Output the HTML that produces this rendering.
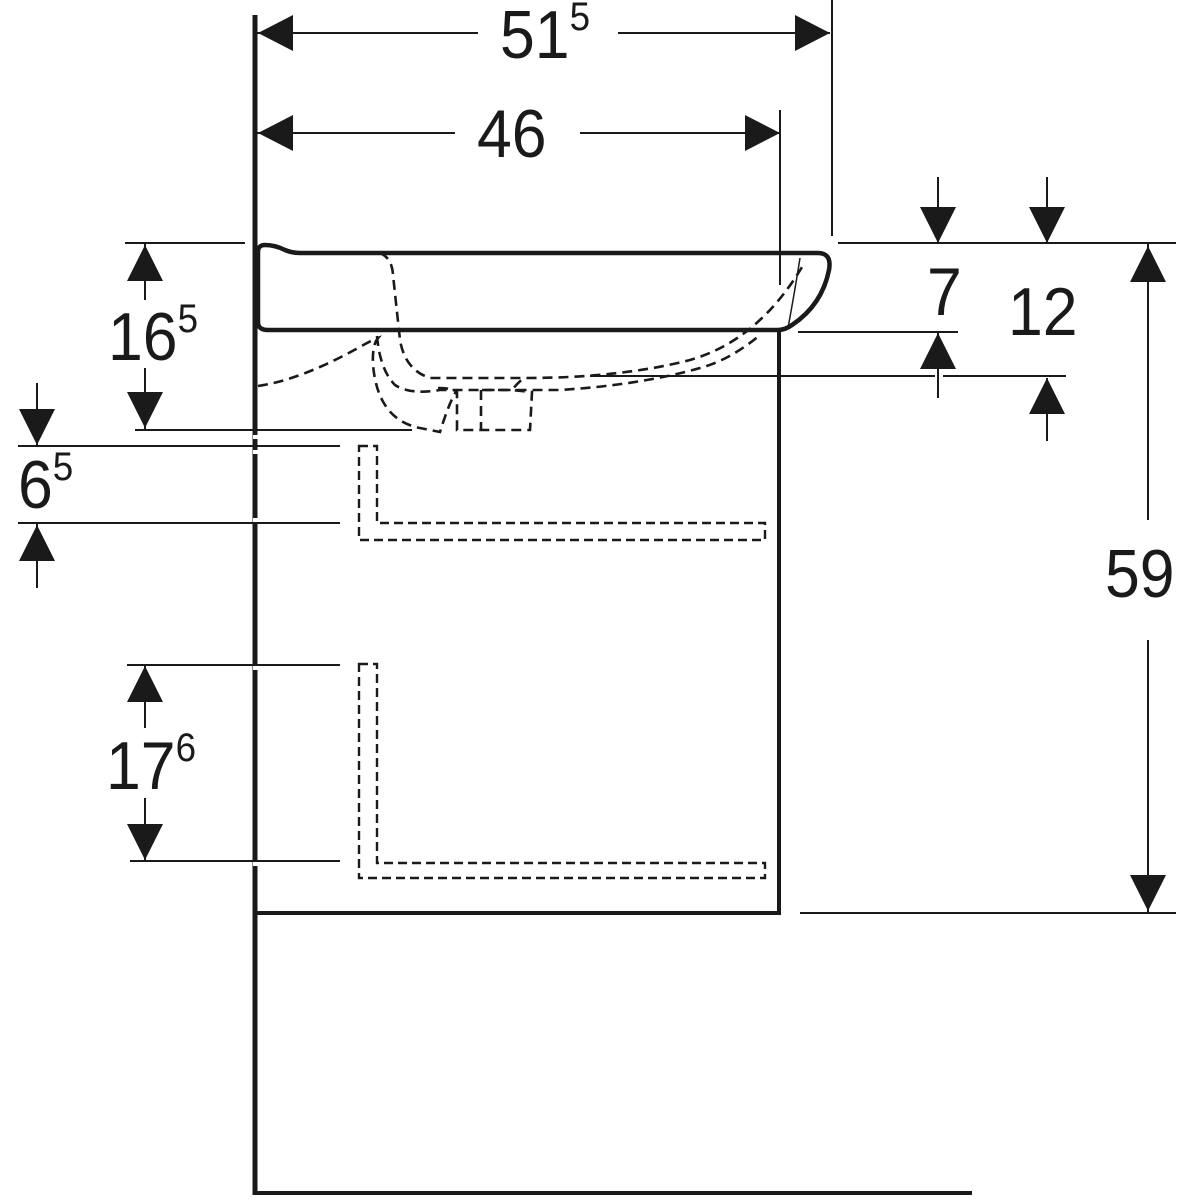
<!DOCTYPE html>
<html><head><meta charset="utf-8"><style>
html,body{margin:0;padding:0;background:#fff;}
svg{display:block;}
text{font-family:"Liberation Sans",sans-serif;fill:#1a1a1a;}
</style></head><body>
<svg width="1200" height="1200" viewBox="0 0 1200 1200" xmlns="http://www.w3.org/2000/svg">
<g stroke="#1a1a1a" fill="none">
<line x1="255" y1="15" x2="255" y2="1195" stroke-width="5"/>
<line x1="253" y1="1193" x2="972" y2="1193" stroke-width="4"/>
<line x1="779" y1="330" x2="779" y2="915" stroke-width="4"/>
<line x1="255" y1="913" x2="781" y2="913" stroke-width="4"/>
<path d="M258,328 L258,252 Q258,245 265,245 Q275,245 285,250 Q292,253 300,253 L818,253 Q832,253 829,270 Q822,305 792,325 Q785,330 778,330 L268,330 Q258,330 258,322" stroke-width="4.5"/>
<path d="M788,328 Q795,290 800,258" stroke-width="1.5"/>
<g stroke-width="2.6" stroke-dasharray="10,6">
<path d="M380,253 Q392,258 393,275 L400,340 Q405,370 430,378 L525,378 Q620,378 690,360 Q760,340 805,262"/>
<path d="M258,386 Q300,380 358,348 Q372,340 378,338 Q372,345 373,365 Q378,420 420,428 L440,432 Q450,400 457,390"/>
<path d="M377,336 Q380,370 395,385 Q410,395 440,390 L560,390 Q640,385 700,368 Q730,360 760,335"/>
<path d="M438,388 Q452,388 457,392 L457,430 L530,430 L532,392 L512,390 Q520,380 525,378"/>
<path d="M481,390 L481,430 M482,390 L510,390"/>
</g>
<g stroke-width="2.4" stroke-dasharray="9,5">
<path d="M359,446 L377,446 L377,523 L765,523 L765,540 L359,540 Z"/>
<path d="M359,664 L377,664 L377,863 L765,863 L765,878 L359,878 Z"/>
</g>
<g stroke-width="2">
<line x1="255" y1="33" x2="478" y2="33"/><line x1="618" y1="33" x2="830" y2="33"/>
<line x1="832" y1="0" x2="832" y2="236"/>
<line x1="255" y1="133" x2="455" y2="133"/><line x1="580" y1="133" x2="780" y2="133"/>
<line x1="780" y1="110" x2="780" y2="285"/>
<line x1="838" y1="243" x2="1176" y2="243"/>
<line x1="798" y1="332" x2="958" y2="332"/>
<line x1="590" y1="376" x2="935" y2="376"/><line x1="943" y1="376" x2="1066" y2="376"/>
<line x1="800" y1="913" x2="1176" y2="913"/>
<line x1="1148" y1="243" x2="1148" y2="520"/><line x1="1148" y1="640" x2="1148" y2="913"/>
<line x1="938" y1="177" x2="938" y2="243"/><line x1="938" y1="332" x2="938" y2="398"/>
<line x1="1047" y1="177" x2="1047" y2="243"/><line x1="1047" y1="378" x2="1047" y2="441"/>
<line x1="125" y1="243" x2="245" y2="243"/><line x1="135" y1="430" x2="412" y2="430"/>
<line x1="145" y1="243" x2="145" y2="300"/><line x1="145" y1="368" x2="145" y2="430"/>
<line x1="18" y1="446" x2="340" y2="446"/><line x1="18" y1="523" x2="340" y2="523"/>
<line x1="37" y1="383" x2="37" y2="446"/><line x1="37" y1="523" x2="37" y2="588"/>
<line x1="127" y1="665" x2="340" y2="665"/><line x1="130" y1="861" x2="340" y2="861"/>
<line x1="145" y1="665" x2="145" y2="728"/><line x1="145" y1="798" x2="145" y2="861"/>
</g>
<g stroke="#fff" stroke-width="4">
<line x1="253" y1="437" x2="258" y2="437"/><line x1="253" y1="452" x2="258" y2="452"/>
<line x1="253" y1="520" x2="258" y2="520"/><line x1="253" y1="668" x2="258" y2="668"/>
<line x1="253" y1="864" x2="258" y2="864"/>
</g>
</g>
<g fill="#1a1a1a">
<polygon points="258,33 293,15 293,51"/><polygon points="830,33 795,15 795,51"/>
<polygon points="258,133 293,115 293,151"/><polygon points="780,133 745,115 745,151"/>
<polygon points="938,243 920,207 956,207"/><polygon points="938,333 920,369 956,369"/>
<polygon points="1047,243 1029,207 1065,207"/><polygon points="1047,378 1029,414 1065,414"/>
<polygon points="1148,246 1130,282 1166,282"/><polygon points="1148,911 1130,875 1166,875"/>
<polygon points="145,245 127,281 163,281"/><polygon points="145,428 127,392 163,392"/>
<polygon points="37,445 19,409 55,409"/><polygon points="37,525 19,561 55,561"/>
<polygon points="145,666 127,702 163,702"/><polygon points="145,860 127,824 163,824"/>
</g>
<g transform="translate(500,58) scale(0.92,1)"><text font-size="68">51<tspan font-size="40" dy="-28">5</tspan></text></g>
<g transform="translate(477,157) scale(0.92,1)"><text font-size="68">46</text></g>
<g transform="translate(927,315) scale(0.92,1)"><text font-size="68">7</text></g>
<g transform="translate(1008,335) scale(0.92,1)"><text font-size="68">12</text></g>
<g transform="translate(1105,597) scale(0.92,1)"><text font-size="68">59</text></g>
<g transform="translate(108,360) scale(0.92,1)"><text font-size="68">16<tspan font-size="40" dy="-28">5</tspan></text></g>
<g transform="translate(18,508) scale(0.92,1)"><text font-size="68">6<tspan font-size="40" dy="-28">5</tspan></text></g>
<g transform="translate(106,789) scale(0.92,1)"><text font-size="68">17<tspan font-size="40" dy="-28">6</tspan></text></g>
</svg>
</body></html>
